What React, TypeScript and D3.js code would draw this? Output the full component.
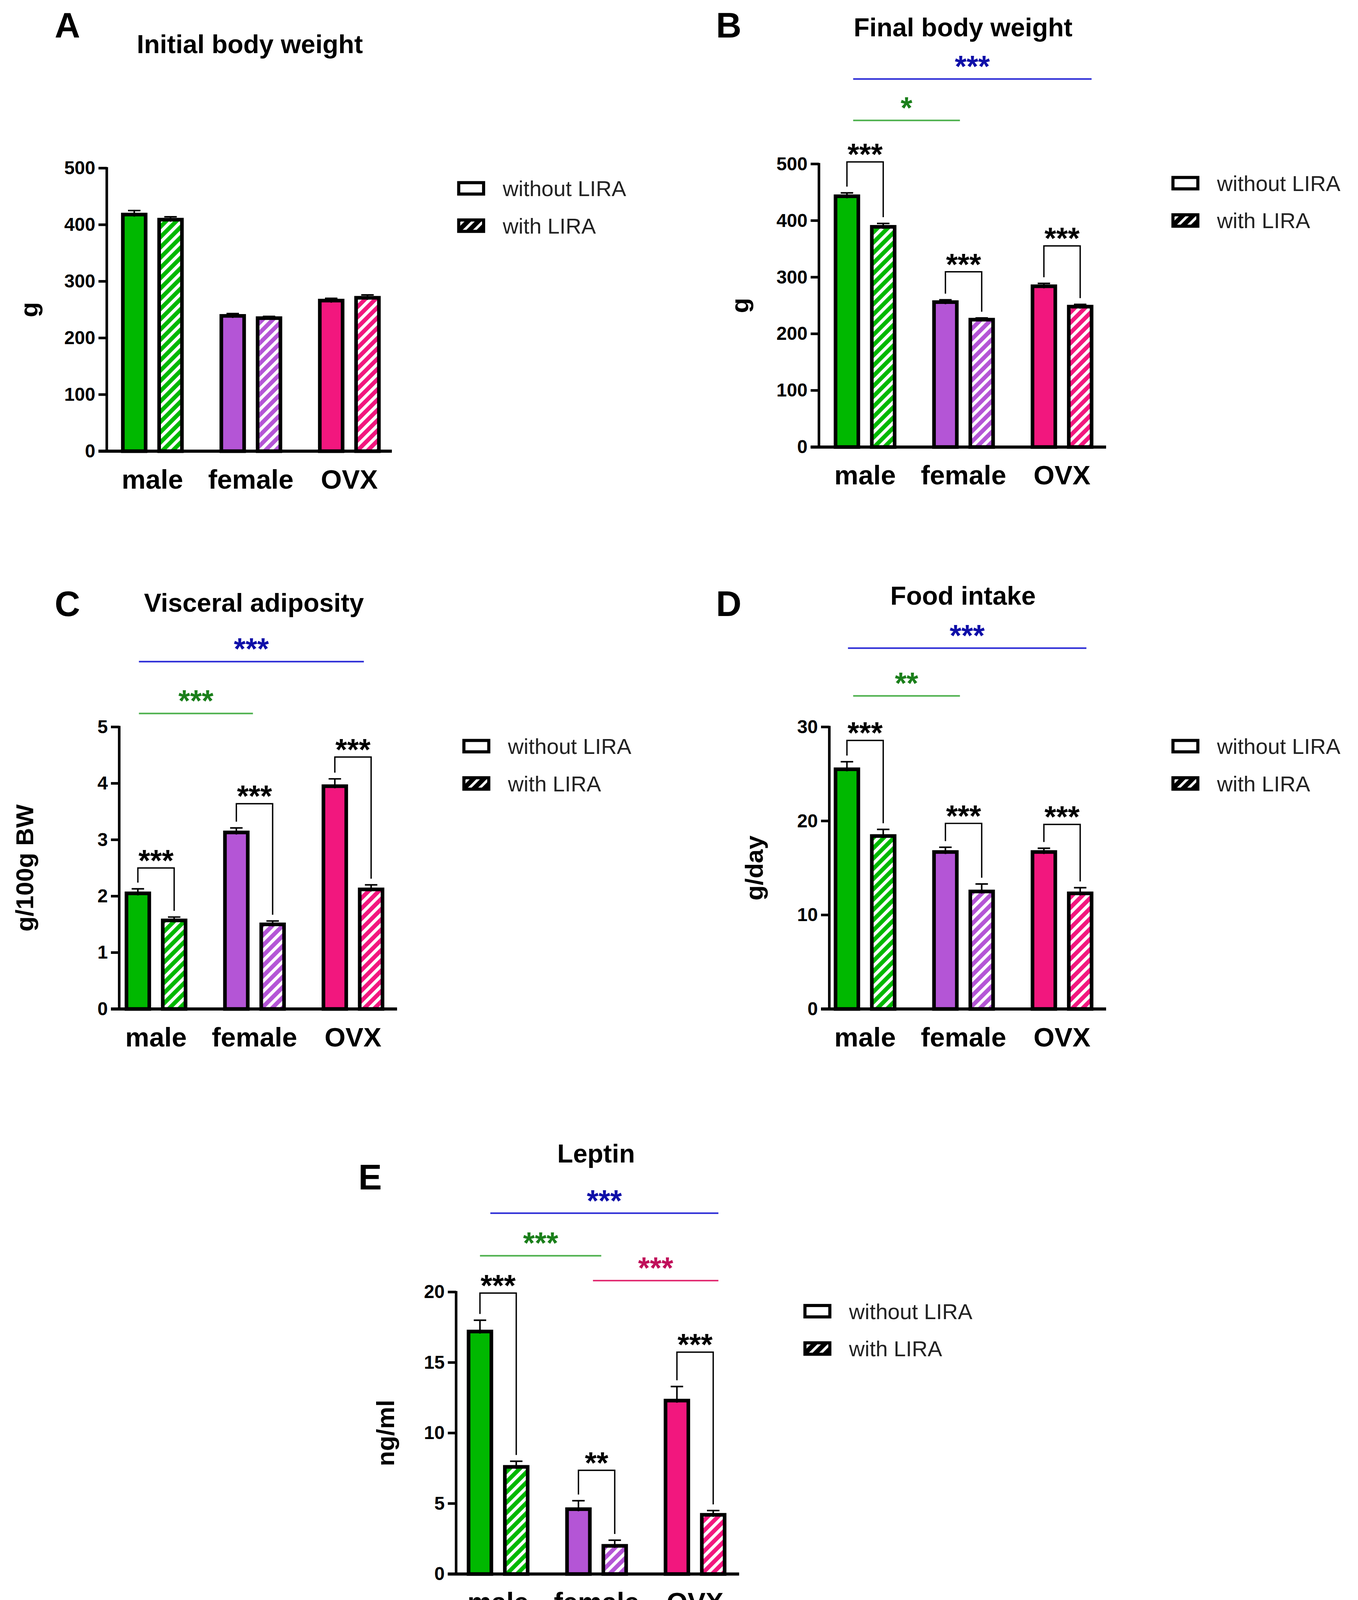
import * as d3 from "d3";

const groups = ["male", "female", "OVX"];
const groupColors = ["#00B800", "#B455D6", "#F2177E"];
const legendLabels = ["without LIRA", "with LIRA"];

const initialWithout = [418, 239, 266];
const initialWithoutErr = [7, 4, 4];
const initialWith = [409, 235, 271];
const initialWithErr = [5, 3, 5];

const finalWithout = [443, 256, 284];
const finalWithoutErr = [6, 4, 5];
const finalWith = [389, 225, 248];
const finalWithErr = [6, 3, 4];

const visceralWithout = [2.05, 3.13, 3.95];
const visceralWithoutErr = [0.08, 0.08, 0.13];
const visceralWith = [1.57, 1.5, 2.12];
const visceralWithErr = [0.06, 0.06, 0.08];

const foodWithout = [25.5, 16.7, 16.7];
const foodWithoutErr = [0.8, 0.5, 0.4];
const foodWith = [18.4, 12.5, 12.3];
const foodWithErr = [0.7, 0.8, 0.6];

const leptinWithout = [17.2, 4.6, 12.3];
const leptinWithoutErr = [0.8, 0.6, 1.0];
const leptinWith = [7.6, 2.0, 4.2];
const leptinWithErr = [0.4, 0.4, 0.3];

type Panel = {
  letter: string; title: string; yLabel: string;
  without: number[]; withoutErr: number[]; with: number[]; withErr: number[];
  yMax: number; yTicks: number[];
  ax: number; axEnd: number; g0: number; g2: number; y0: number; yTop: number;
  letterPos: [number, number]; titlePos: [number, number]; yLabelX: number;
  legendX: number; legendY: number;
  brackets: { g: number; stars: string; top: number }[];
  lines: { from: number; to: number; y: number; stars: string; line: string; text: string }[];
};

const panels: Panel[] = [
  {
    letter: "A", title: "Initial body weight", yLabel: "g",
    without: initialWithout, withoutErr: initialWithoutErr, with: initialWith, withErr: initialWithErr,
    yMax: 500, yTicks: [0, 100, 200, 300, 400, 500],
    ax: 103, axEnd: 378, g0: 147, g2: 337, y0: 435, yTop: 162,
    letterPos: [65, 36], titlePos: [241, 51], yLabelX: 36, legendX: 441, legendY: 181,
    brackets: [], lines: [],
  },
  {
    letter: "B", title: "Final body weight", yLabel: "g",
    without: finalWithout, withoutErr: finalWithoutErr, with: finalWith, withErr: finalWithErr,
    yMax: 500, yTicks: [0, 100, 200, 300, 400, 500],
    ax: 790, axEnd: 1067, g0: 834.5, g2: 1024.5, y0: 431, yTop: 158,
    letterPos: [703, 36], titlePos: [929, 35], yLabelX: 722, legendX: 1130, legendY: 176,
    brackets: [
      { g: 0, stars: "***", top: 156 },
      { g: 1, stars: "***", top: 262 },
      { g: 2, stars: "***", top: 237 },
    ],
    lines: [
      { from: 823, to: 1053, y: 76, stars: "***", line: "#2B2BD6", text: "#0F0FA8" },
      { from: 823, to: 926, y: 116, stars: "*", line: "#4CB04C", text: "#1B7F1B" },
    ],
  },
  {
    letter: "C", title: "Visceral adiposity", yLabel: "g/100g BW",
    without: visceralWithout, withoutErr: visceralWithoutErr, with: visceralWith, withErr: visceralWithErr,
    yMax: 5, yTicks: [0, 1, 2, 3, 4, 5],
    ax: 115, axEnd: 383, g0: 150.5, g2: 340.5, y0: 973, yTop: 701,
    letterPos: [65, 594], titlePos: [245, 590], yLabelX: 32, legendX: 446, legendY: 719,
    brackets: [
      { g: 0, stars: "***", top: 837 },
      { g: 1, stars: "***", top: 775 },
      { g: 2, stars: "***", top: 730 },
    ],
    lines: [
      { from: 134, to: 351, y: 638, stars: "***", line: "#2B2BD6", text: "#0F0FA8" },
      { from: 134, to: 244, y: 688, stars: "***", line: "#4CB04C", text: "#1B7F1B" },
    ],
  },
  {
    letter: "D", title: "Food intake", yLabel: "g/day",
    without: foodWithout, withoutErr: foodWithoutErr, with: foodWith, withErr: foodWithErr,
    yMax: 30, yTicks: [0, 10, 20, 30],
    ax: 800, axEnd: 1067, g0: 834.5, g2: 1024.5, y0: 973, yTop: 701,
    letterPos: [703, 594], titlePos: [929, 583], yLabelX: 736, legendX: 1130, legendY: 719,
    brackets: [
      { g: 0, stars: "***", top: 714 },
      { g: 1, stars: "***", top: 794 },
      { g: 2, stars: "***", top: 795 },
    ],
    lines: [
      { from: 818, to: 1048, y: 625, stars: "***", line: "#2B2BD6", text: "#0F0FA8" },
      { from: 823, to: 926, y: 671, stars: "**", line: "#4CB04C", text: "#1B7F1B" },
    ],
  },
  {
    letter: "E", title: "Leptin", yLabel: "ng/ml",
    without: leptinWithout, withoutErr: leptinWithoutErr, with: leptinWith, withErr: leptinWithErr,
    yMax: 20, yTicks: [0, 5, 10, 15, 20],
    ax: 440, axEnd: 713, g0: 480.5, g2: 670.5, y0: 1518, yTop: 1246,
    letterPos: [357, 1147], titlePos: [575, 1121], yLabelX: 380, legendX: 775, legendY: 1264,
    brackets: [
      { g: 0, stars: "***", top: 1247 },
      { g: 1, stars: "**", top: 1418 },
      { g: 2, stars: "***", top: 1304 },
    ],
    lines: [
      { from: 473, to: 693, y: 1170, stars: "***", line: "#2B2BD6", text: "#0F0FA8" },
      { from: 463, to: 580, y: 1211, stars: "***", line: "#4CB04C", text: "#1B7F1B" },
      { from: 572, to: 693, y: 1235, stars: "***", line: "#E0206A", text: "#C0105A" },
    ],
  },
];

const FONT = "'Liberation Sans Narrow', 'Liberation Sans', Arial, sans-serif";
const BAR_W = 22;
const OFF = 17.5;

function PanelView({ p }: { p: Panel }) {
  const y = d3.scaleLinear().domain([0, p.yMax]).range([p.y0, p.yTop]);
  const x = d3.scalePoint<string>().domain(groups).range([p.g0, p.g2]);
  const series = [
    { vals: p.without, errs: p.withoutErr, dx: -OFF, hatched: false },
    { vals: p.with, errs: p.withErr, dx: OFF, hatched: true },
  ];
  return (
    <g fontFamily={FONT}>
      <text x={p.letterPos[0]} y={p.letterPos[1]} fontSize={34} fontWeight="bold" textAnchor="middle" fontFamily="'Liberation Sans', Arial">{p.letter}</text>
      <text x={p.titlePos[0]} y={p.titlePos[1]} fontSize={25} fontWeight="bold" textAnchor="middle" fontFamily="'Liberation Sans', Arial">{p.title}</text>
      <text transform={`translate(${p.yLabelX},${(p.y0 + p.yTop) / 2}) rotate(-90)`} fontSize={24} fontWeight="bold" textAnchor="middle" fontFamily="'Liberation Sans', Arial">{p.yLabel}</text>
      {p.yTicks.map((t) => (
        <g key={t}>
          <line x1={p.ax - 8} x2={p.ax} y1={y(t)} y2={y(t)} stroke="#000" strokeWidth={2.5} />
          <text x={p.ax - 11} y={y(t) + 6} fontSize={18} fontWeight="bold" textAnchor="end">{t}</text>
        </g>
      ))}
      {groups.map((g, gi) =>
        series.map((s, si) => {
          const cx = x(g)! + s.dx;
          const v = s.vals[gi];
          const e = s.errs[gi];
          return (
            <g key={`${g}-${si}`}>
              <line x1={cx} x2={cx} y1={y(v)} y2={y(v + e)} stroke="#000" strokeWidth={1.5} />
              <line x1={cx - 6} x2={cx + 6} y1={y(v + e)} y2={y(v + e)} stroke="#000" strokeWidth={1.5} />
              <line x1={cx - 6} x2={cx + 6} y1={y(v - e)} y2={y(v - e)} stroke="#000" strokeWidth={1.5} />
              <rect x={cx - BAR_W / 2} y={y(v)} width={BAR_W} height={p.y0 - y(v)}
                fill={s.hatched ? `url(#hatch${gi})` : groupColors[gi]} stroke="#000" strokeWidth={3.5} />
              <line x1={cx} x2={cx} y1={y(v)} y2={Math.min(y(v - e), y(v) + 2)} stroke="#000" strokeWidth={1.5} />
            </g>
          );
        })
      )}
      <line x1={p.ax} x2={p.ax} y1={p.yTop - 1} y2={p.y0} stroke="#000" strokeWidth={2.5} />
      <line x1={p.ax - 8} x2={p.axEnd} y1={p.y0} y2={p.y0} stroke="#000" strokeWidth={3} />
      {groups.map((g) => (
        <text key={g} x={x(g)!} y={p.y0 + 36} fontSize={26} fontWeight="bold" textAnchor="middle">{g}</text>
      ))}
      {p.brackets.map((b) => {
        const g = groups[b.g];
        const l = x(g)! - OFF;
        const r = x(g)! + OFF;
        const lb = y(p.without[b.g] + p.withoutErr[b.g]) - 6;
        const rb = y(p.with[b.g] + p.withErr[b.g]) - 6;
        return (
          <g key={g}>
            <path d={`M${l},${lb}V${b.top}H${r}V${rb}`} fill="none" stroke="#000" strokeWidth={1.3} />
            <text x={(l + r) / 2} y={b.top + 3} fontSize={29} fontWeight="bold" textAnchor="middle" fontFamily="'Liberation Sans', Arial">{b.stars}</text>
          </g>
        );
      })}
      {p.lines.map((l, i) => (
        <g key={i}>
          <line x1={l.from} x2={l.to} y1={l.y} y2={l.y} stroke={l.line} strokeWidth={1.5} />
          <text x={(l.from + l.to) / 2} y={l.y - 2} fontSize={29} fontWeight="bold" fill={l.text} textAnchor="middle" fontFamily="'Liberation Sans', Arial">{l.stars}</text>
        </g>
      ))}
      {legendLabels.map((lab, i) => (
        <g key={lab} transform={`translate(${p.legendX},${p.legendY + i * 36})`}>
          <rect x={1.5} y={-5} width={24} height={11} fill={i === 0 ? "#fff" : "url(#hatchK)"} stroke="#000" strokeWidth={3} />
          <text x={44} y={8} fontSize={21} fontFamily="'Liberation Sans', Arial" fill="#222">{lab}</text>
        </g>
      ))}
    </g>
  );
}

export default function App() {
  return (
    <svg width={3477} height={4160} viewBox="0 0 1310 1567"
      style={{ position: "absolute", left: 0, top: 0, background: "#fff" }}>
      <defs>
        {groupColors.map((c, i) => (
          <pattern key={c} id={`hatch${i}`} width={7} height={7} patternUnits="userSpaceOnUse" patternTransform="rotate(45)">
            <rect width={7} height={7} fill={c} />
            <rect width={3} height={7} fill="#fff" />
          </pattern>
        ))}
        <pattern id="hatchK" width={7} height={7} patternUnits="userSpaceOnUse" patternTransform="rotate(45)">
          <rect width={7} height={7} fill="#000" />
          <rect width={2.5} height={7} fill="#fff" />
        </pattern>
      </defs>
      <rect width={1310} height={1567} fill="#fff" />
      {panels.map((p) => <PanelView key={p.letter} p={p} />)}
    </svg>
  );
}
